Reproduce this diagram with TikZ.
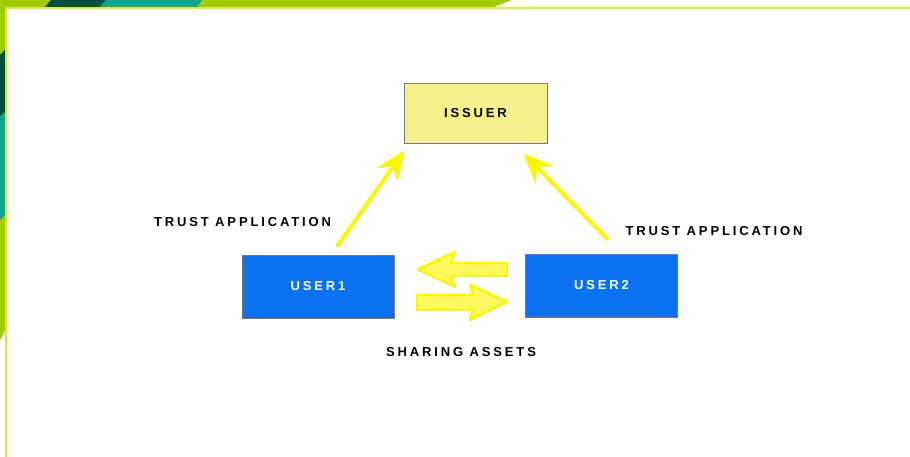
\documentclass[tikz,border=0pt]{standalone}
\usepackage{fontspec}
\setmainfont{Liberation Sans}
\newfontfamily\widefont[LetterSpace=22]{Liberation Sans}
\usepackage{xcolor}
\usepackage{tikz}
\usetikzlibrary{calc, patterns, arrows.meta, positioning}
\definecolor{issuerfill}{HTML}{F5F08A}
\definecolor{userblue}{HTML}{0A72F0}
\definecolor{boxline}{HTML}{7A7A7A}
\definecolor{signyellow}{HTML}{FAF700}
\definecolor{limeband}{HTML}{A3CB05}
\definecolor{limeline}{HTML}{D2EC3C}
\definecolor{tealband}{HTML}{10A68F}
\definecolor{darkband}{HTML}{00503F}
\newcommand{\capsfont}{\widefont\bfseries\fontsize{13}{15}\selectfont}
\tikzset{
    boxnode/.style = {draw=boxline, line width=0.8pt, rectangle, inner sep=0em, 
      node distance=0em, font=\capsfont},
    issuernode/.style = {boxnode, fill=issuerfill, text=black, minimum width=143pt, minimum height=60pt},
    usernode/.style = {boxnode, fill=userblue, text=white, minimum width=152pt, minimum height=63pt},
    textnode/.style = {draw=none, fill=none, rectangle, inner sep=0em, node distance=0em, 
      text=black, font=\capsfont},
    connect/.style = {signyellow, line width=4pt, -{Stealth[length=30pt, width=25pt, inset=10pt]}},
    swaparrow/.style = {draw=signyellow, line width=2.4pt, line join=round, 
      preaction={fill=signyellow!45}, pattern=north east lines, pattern color=signyellow}
}

\begin{document}
\begin{tikzpicture}[x=1pt, y=-1pt]
\useasboundingbox (0,0) rectangle (910,457);
\fill[white] (0,0) rectangle (910,457);
% frame corner
\fill[limeband] (0,0) -- (512,0) -- (494,7) -- (0,7) -- cycle;
\fill[darkband] (51,0) -- (106,0) -- (100,7) -- (45,7) -- cycle;
\fill[tealband] (106,0) -- (202,0) -- (197,7) -- (100,7) -- cycle;
\fill[limeband] (0,0) -- (5,0) -- (5,331) -- (0,340) -- cycle;
\fill[darkband] (0,55) -- (5,50) -- (5,112) -- (0,117) -- cycle;
\fill[tealband] (0,117) -- (5,112) -- (5,215) -- (0,220) -- cycle;
\draw[limeline, line width=1.8pt] (6,8) -- (6,457);
\draw[limeline, line width=1.8pt] (5,8) -- (910,8);

\node [issuernode, name=Issuer] at (475.5,113) {ISSUER};
\node [usernode, name=UserOne, below of=Issuer, xshift=-157.5pt, yshift=-173.5pt] {USER1};
\node [usernode, name=UserTwo, below of=Issuer, xshift=126pt, yshift=-172.5pt] {USER2};

\node [textnode, name=TrustLeft, above of=UserOne, xshift=-75.5pt, yshift=64.5pt] {TRUST APPLICATION};
\node [textnode, name=TrustRight, above of=UserTwo, xshift=112.5pt, yshift=54.5pt] {TRUST APPLICATION};
\node [textnode, name=Sharing, below of=UserOne, xshift=143pt, yshift=-65.5pt] {SHARING ASSETS};

\draw ([xshift=19pt, yshift=8pt]UserOne.north) edge[connect] ([xshift=1pt, yshift=-7pt]Issuer.south west);
\draw ([xshift=6.5pt, yshift=14pt]UserTwo.north) edge[connect] ([xshift=-24pt, yshift=-10pt]Issuer.south east);

% sharing arrows
\draw[swaparrow] (418,269.5) -- (455,252) -- (451,263) -- (507,263) -- (507,276) -- (451,276) -- (455,287) -- cycle;
\draw[swaparrow] (507,302) -- (470,285) -- (473,295) -- (417,295) -- (417,310) -- (473,310) -- (470,320) -- cycle;
\end{tikzpicture}
\end{document}
